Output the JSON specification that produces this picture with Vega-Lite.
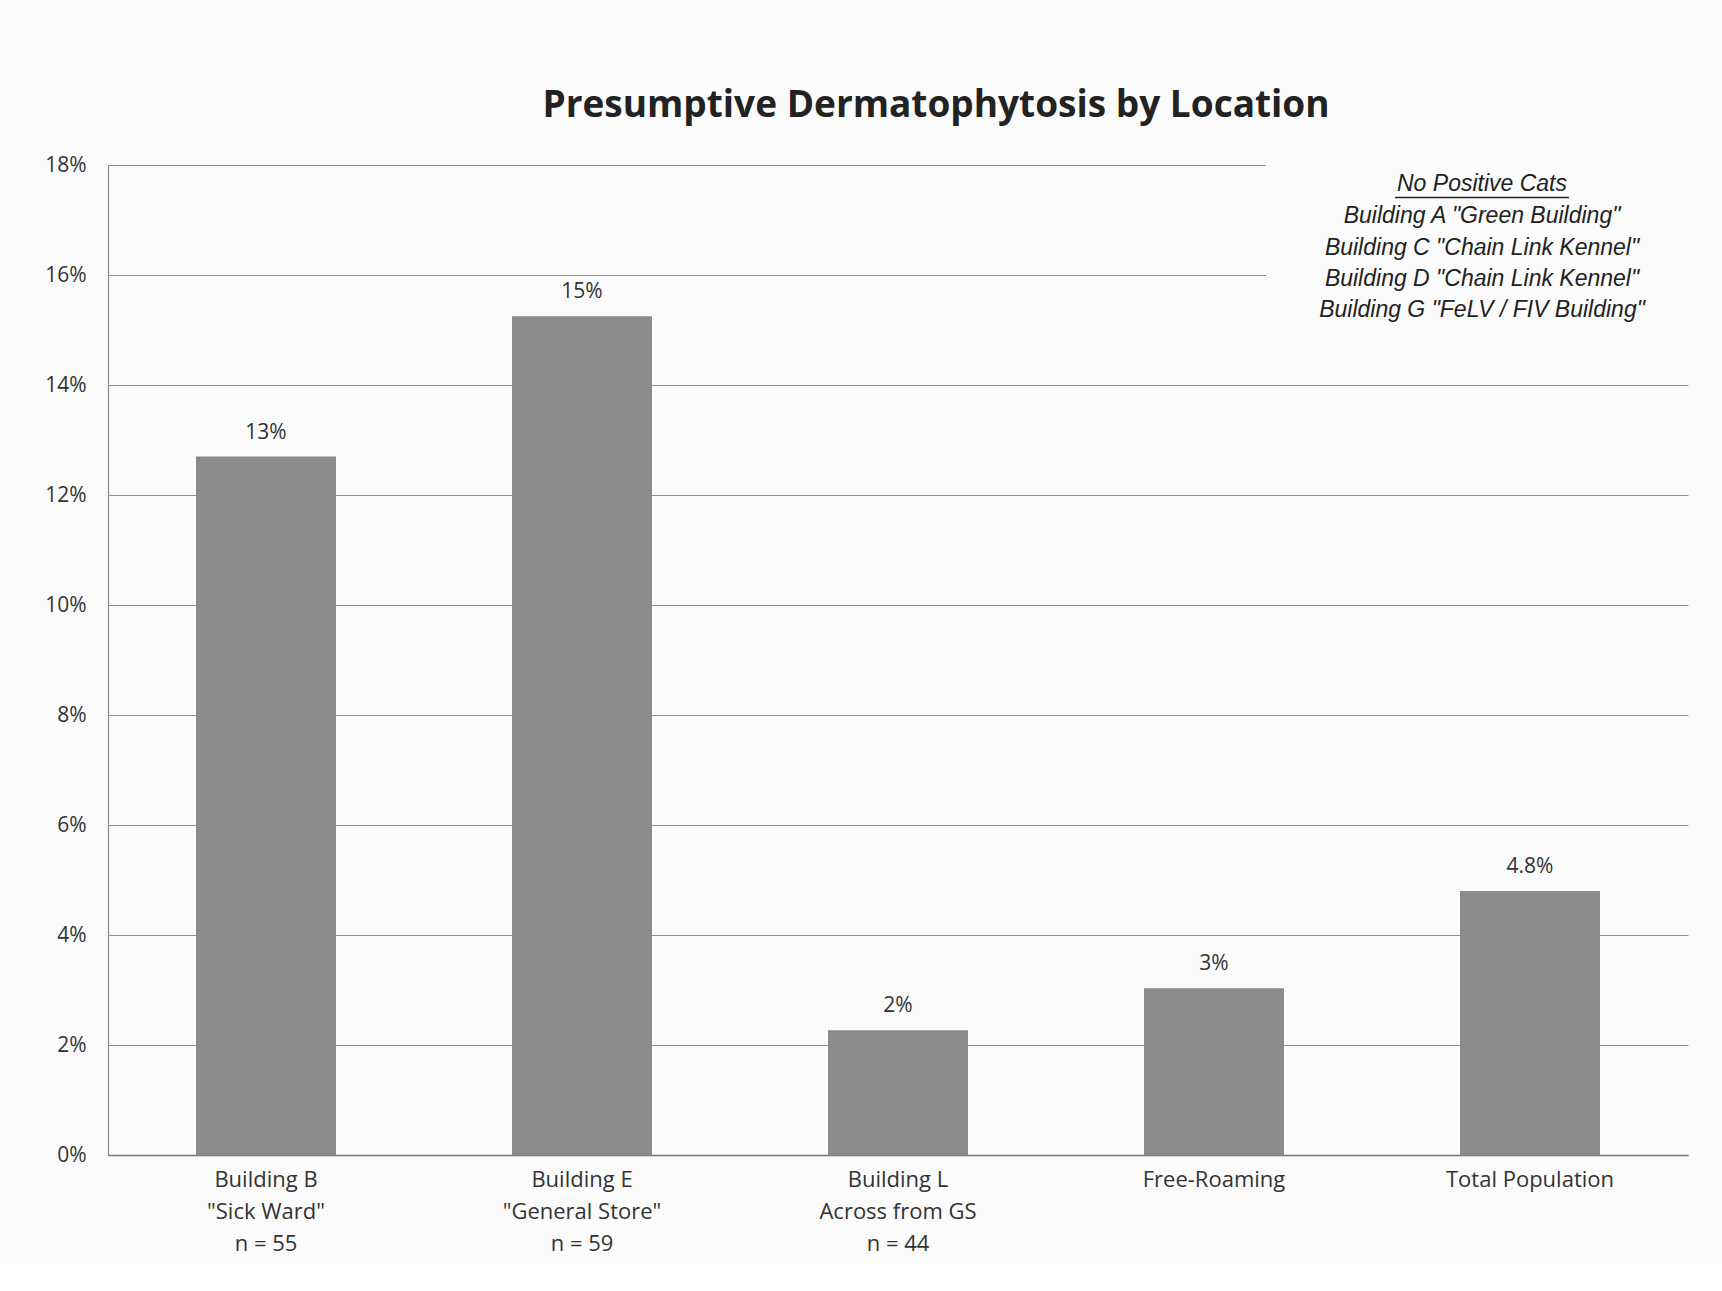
{
  "$schema": "https://vega.github.io/schema/vega-lite/v6.json",
  "width": 1580,
  "height": 990,
  "padding": {"left": 44, "top": 86, "right": 10, "bottom": 10},
  "background": "#fbfbfb",
  "title": {
    "text": "Presumptive Dermatophytosis by Location",
    "font": "Open Sans",
    "fontSize": 37,
    "fontWeight": "bold",
    "color": "#222222",
    "offset": 24,
    "dx": 38
  },
  "config": {
    "view": {"stroke": null},
    "axis": {"labelFont": "Open Sans", "labelColor": "#333333"}
  },
  "datasets": {
    "bars": [
      {"location": "Building B|\"Sick Ward\"|n = 55", "pct": 12.7, "label": "13%"},
      {"location": "Building E|\"General Store\"|n = 59", "pct": 15.25, "label": "15%"},
      {"location": "Building L|Across from GS|n = 44", "pct": 2.27, "label": "2%"},
      {"location": "Free-Roaming", "pct": 3.03, "label": "3%"},
      {"location": "Total Population", "pct": 4.8, "label": "4.8%"}
    ],
    "notes": [
      {"location": "Total Population", "y": 17.65, "text": "No Positive Cats"},
      {"location": "Total Population", "y": 17.08, "text": "Building A \"Green Building\""},
      {"location": "Total Population", "y": 16.5, "text": "Building C \"Chain Link Kennel\""},
      {"location": "Total Population", "y": 15.92, "text": "Building D \"Chain Link Kennel\""},
      {"location": "Total Population", "y": 15.36, "text": "Building G \"FeLV / FIV Building\""}
    ],
    "underline": [
      {"location": "Total Population", "y": 17.41}
    ],
    "box": [
      {"from": "Free-Roaming", "to": "Total Population", "y1": 15.0, "y2": 18.3}
    ]
  },
  "layer": [
    {
      "data": {"name": "bars"},
      "mark": {"type": "bar", "color": "#8b8b8b", "width": 140},
      "encoding": {
        "x": {
          "field": "location",
          "type": "nominal",
          "sort": null,
          "scale": {"paddingInner": 0.55, "paddingOuter": 0.275},
          "axis": {
            "title": null,
            "labelAngle": 0,
            "labelExpr": "split(datum.label, '|')",
            "labelFontSize": 22,
            "labelLineHeight": 32,
            "labelPadding": 14,
            "labelBaseline": "top",
            "ticks": false,
            "domainColor": "#777777",
            "domainWidth": 1.5,
            "labelColor": "#333333"
          }
        },
        "y": {
          "field": "pct",
          "type": "quantitative",
          "scale": {"domain": [0, 18]},
          "axis": {
            "title": null,
            "values": [0, 2, 4, 6, 8, 10, 12, 14, 16, 18],
            "labelExpr": "datum.value + '%'",
            "labelFontSize": 21,
            "labelPadding": 22,
            "ticks": false,
            "grid": true,
            "gridColor": "#8f8f8f",
            "gridWidth": 1,
            "domainColor": "#888888",
            "domainWidth": 1.2
          }
        }
      }
    },
    {
      "data": {"name": "box"},
      "mark": {"type": "rect", "color": "#fbfbfb", "xOffset": 52, "x2Offset": 200},
      "encoding": {
        "x": {"field": "from", "type": "nominal", "sort": null},
        "x2": {"field": "to"},
        "y": {"field": "y1", "type": "quantitative"},
        "y2": {"field": "y2"}
      }
    },
    {
      "data": {"name": "bars"},
      "mark": {"type": "text", "font": "Open Sans", "fontSize": 21, "color": "#333333", "dy": -24},
      "encoding": {
        "x": {"field": "location", "type": "nominal", "sort": null},
        "y": {"field": "pct", "type": "quantitative"},
        "text": {"field": "label"}
      }
    },
    {
      "data": {"name": "notes"},
      "mark": {"type": "text", "font": "Liberation Sans", "fontStyle": "italic", "fontSize": 23, "color": "#222222", "dx": -48},
      "encoding": {
        "x": {"field": "location", "type": "nominal", "sort": null},
        "y": {"field": "y", "type": "quantitative"},
        "text": {"field": "text"}
      }
    },
    {
      "data": {"name": "underline"},
      "mark": {"type": "rule", "color": "#222222", "strokeWidth": 1.4, "xOffset": -135, "x2Offset": 39},
      "encoding": {
        "x": {"field": "location", "type": "nominal", "sort": null},
        "x2": {"field": "location"},
        "y": {"field": "y", "type": "quantitative"}
      }
    }
  ]
}
